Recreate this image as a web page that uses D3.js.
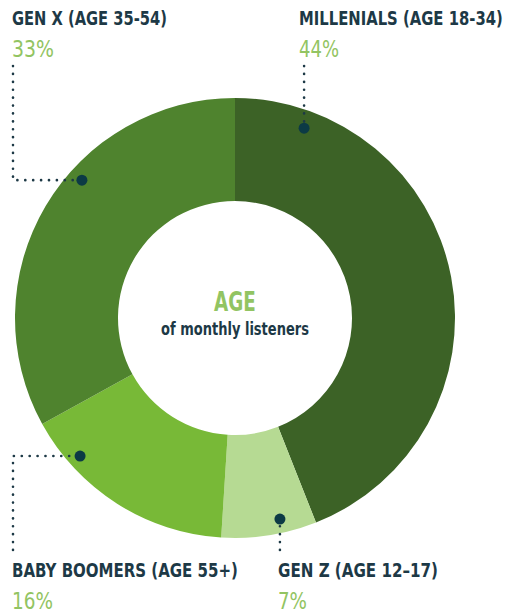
<!DOCTYPE html>
<html>
<head>
<meta charset="utf-8">
<script src="https://cdn.jsdelivr.net/npm/d3@7"></script>
<style>
  html, body { margin: 0; padding: 0; background: #fff; }
  svg { display: block; }
  .lab { font-family: "DejaVu Sans Condensed", "Liberation Sans Narrow", "DejaVu Sans", sans-serif; font-weight: bold; fill: #1d3946; }
  .pct { font-family: "DejaVu Sans Condensed", "Liberation Sans Narrow", "DejaVu Sans", sans-serif; fill: #92c462; }
</style>
</head>
<body>
<svg id="chart" width="510" height="613"></svg>
<script>
// Age groups of monthly listeners, in drawing order (clockwise from 12 o'clock)
const groups  = ["MILLENIALS (AGE 18-34)", "GEN Z (AGE 12–17)", "BABY BOOMERS (AGE 55+)", "GEN X (AGE 35-54)"];
const shares  = [44, 7, 16, 33];
const colours = ["#3c6226", "#b6da93", "#78b937", "#4f832e"];

const svg = d3.select("#chart");
const cx = 235, cy = 318, rOuter = 220, rInner = 117;

const pie = d3.pie().sort(null).value(d => d.value);
const arcs = pie(groups.map((g, i) => ({ name: g, value: shares[i], colour: colours[i] })));
const arc = d3.arc().innerRadius(rInner).outerRadius(rOuter);

const g = svg.append("g").attr("transform", `translate(${cx},${cy})`);
g.selectAll("path").data(arcs).join("path")
  .attr("d", arc)
  .attr("fill", d => d.data.colour);

// Draw a text condensed horizontally to a given width (left edge at x, or centred on x)
function narrowText(parent, cls, x, y, size, width, str, centred) {
  const grp = parent.append("g");
  const t = grp.append("text").attr("class", cls).attr("font-size", size)
    .attr("text-anchor", centred ? "middle" : "start").text(str);
  const natural = t.node().getComputedTextLength();
  grp.attr("transform", `translate(${x},${y}) scale(${width / natural},1)`);
  return t;
}

// Centre caption
narrowText(g, "pct", 0, -7, 26, 38, "AGE", true).attr("font-weight", "bold").attr("fill", "#9acd63");
narrowText(g, "lab", 0, 17, 17, 148, "of monthly listeners", true);

// Label anchor, text widths and the dotted leader (from label to marker) for each group
const place = {
  "MILLENIALS (AGE 18-34)": { lx: 299, ly: 25,  w: 204, pw: 40, path: p => [[p[0], 66], p] },
  "GEN X (AGE 35-54)":      { lx: 12,  ly: 25,  w: 155, pw: 42, path: p => [[13, 66], [13, p[1]], p] },
  "BABY BOOMERS (AGE 55+)": { lx: 12,  ly: 577, w: 226, pw: 41, path: p => [[13, 550], [13, p[1]], p] },
  "GEN Z (AGE 12–17)":      { lx: 278, ly: 577, w: 160, pw: 29, path: p => [[p[0], 550], p] }
};
// Marker on the ring: angle (deg, clockwise from top) and distance from the centre
const markerAngle  = { "MILLENIALS (AGE 18-34)": 20, "GEN Z (AGE 12–17)": 167.4, "BABY BOOMERS (AGE 55+)": 228.3, "GEN X (AGE 35-54)": 312 };
const markerRadius = { "MILLENIALS (AGE 18-34)": 202, "GEN Z (AGE 12–17)": 206, "BABY BOOMERS (AGE 55+)": 207.5, "GEN X (AGE 35-54)": 206 };

const line = d3.line();
arcs.forEach(a => {
  const name = a.data.name;
  const ang = markerAngle[name] * Math.PI / 180, r = markerRadius[name];
  const p = [cx + r * Math.sin(ang), cy - r * Math.cos(ang)];
  const pl = place[name];
  svg.append("path")
    .attr("d", line(pl.path(p)))
    .attr("fill", "none").attr("stroke", "#1d3946").attr("stroke-width", 2.6)
    .attr("stroke-dasharray", "0.1 7.8").attr("stroke-linecap", "round");
  svg.append("circle").attr("cx", p[0]).attr("cy", p[1]).attr("r", 5.5).attr("fill", "#0c3a45");
  narrowText(svg, "lab", pl.lx, pl.ly, 20, pl.w, name, false);
  narrowText(svg, "pct", pl.lx, pl.ly + 32, 23, pl.pw, a.data.value + "%", false);
});
</script>
</body>
</html>
